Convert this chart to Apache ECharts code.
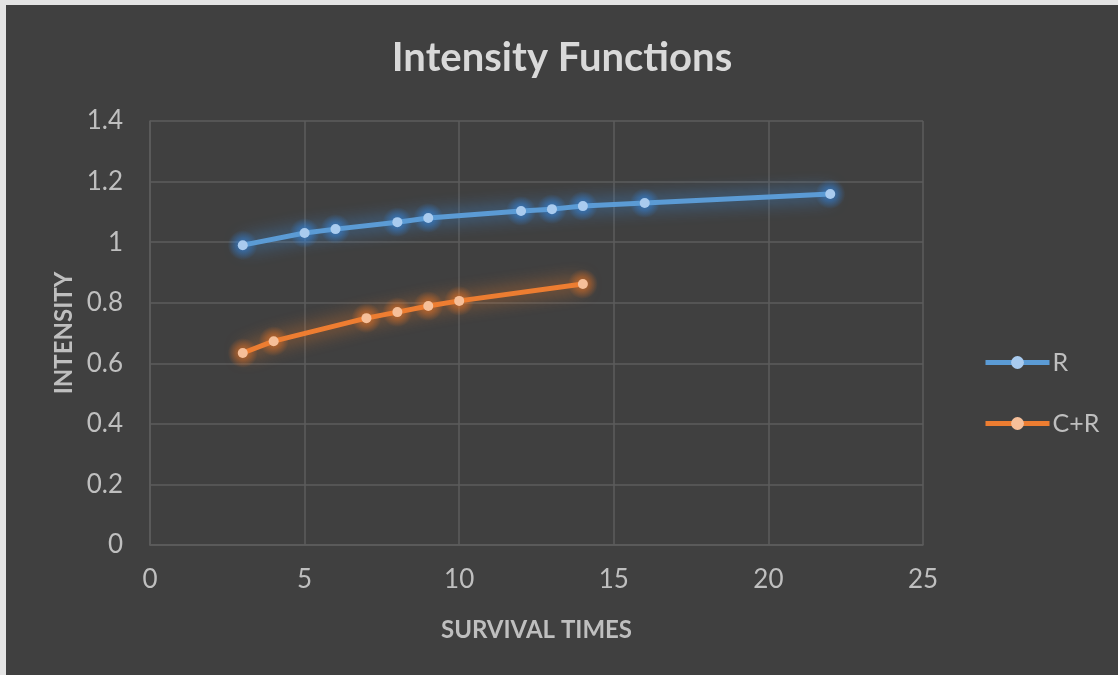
<!DOCTYPE html>
<html>
<head>
<meta charset="utf-8">
<script src="https://cdn.jsdelivr.net/npm/echarts@6/dist/echarts.min.js"></script>
<style>
  html, body { margin: 0; padding: 0; background: #e4e4e4; }
  #chart { position: absolute; left: 6px; top: 5px; width: 1112px; height: 670px; background: #404040; }
</style>
</head>
<body>
<div id="chart"></div>
<script>
// Survival times and intensity estimates for each group
const timesR = [3, 5, 6, 8, 9, 12, 13, 14, 16, 22];
const intensityR = [0.990, 1.030, 1.043, 1.066, 1.080, 1.103, 1.109, 1.119, 1.129, 1.159];
const timesCR = [3, 4, 7, 8, 9, 10, 14];
const intensityCR = [0.634, 0.673, 0.749, 0.769, 0.789, 0.806, 0.862];
const seriesNames = ['R', 'C+R'];

const pairs = (xs, ys) => xs.map((x, i) => [x, ys[i]]);

const font = 'Lato, "Open Sans", sans-serif';
const gridColor = '#5c5c5c';
const labelColor = '#bfbfbf';

// Line with a soft glow around the stroke
function glowSeries(name, data, lineColor, dotColor, glow) {
  return {
    name: name,
    type: 'line',
    data: data,
    z: 3,
    symbol: 'circle',
    symbolSize: 10,
    lineStyle: { color: lineColor, width: 5, shadowBlur: 18, shadowColor: glow },
    itemStyle: { color: dotColor, borderWidth: 0 },
    emphasis: { disabled: true }
  };
}

// Soft radial halo drawn beneath each marker
function haloSeries(data, rgb) {
  return {
    name: 'halo',
    type: 'scatter',
    data: data,
    z: 2,
    symbolSize: 30,
    silent: true,
    itemStyle: {
      color: {
        type: 'radial', x: 0.5, y: 0.5, r: 0.5,
        colorStops: [
          { offset: 0, color: 'rgba(' + rgb + ',0.85)' },
          { offset: 0.45, color: 'rgba(' + rgb + ',0.55)' },
          { offset: 1, color: 'rgba(' + rgb + ',0)' }
        ]
      }
    },
    emphasis: { disabled: true }
  };
}

const chart = echarts.init(document.getElementById('chart'));
chart.setOption({
  animation: false,
  backgroundColor: '#404040',
  title: {
    text: 'Intensity Functions',
    left: 'center',
    top: 28,
    textStyle: { color: '#d9d9d9', fontSize: 40, fontWeight: 'bold', fontFamily: font }
  },
  legend: {
    orient: 'vertical',
    left: 972,
    top: 340,
    itemWidth: 64,
    itemHeight: 16,
    itemGap: 36,
    textStyle: { color: labelColor, fontSize: 25, fontFamily: font, padding: [0, 0, 0, -2] },
    lineStyle: { width: 5, shadowBlur: 0 },
    itemStyle: { shadowBlur: 0 },
    data: seriesNames
  },
  grid: { left: 144, right: 195, top: 116, bottom: 130 },
  xAxis: {
    type: 'value',
    min: 0, max: 25, interval: 5,
    name: 'SURVIVAL TIMES',
    nameLocation: 'middle',
    nameGap: 73,
    nameTextStyle: { color: labelColor, fontSize: 24, fontWeight: 'bold', fontFamily: font },
    axisLine: { show: true, lineStyle: { color: gridColor, width: 1.5 } },
    axisTick: { show: false },
    axisLabel: { color: labelColor, fontSize: 26, fontFamily: font, margin: 22 },
    splitLine: { show: true, lineStyle: { color: gridColor, width: 1.5 } }
  },
  yAxis: {
    type: 'value',
    min: 0, max: 1.4, interval: 0.2,
    name: 'INTENSITY',
    nameLocation: 'middle',
    nameRotate: 90,
    nameGap: 74,
    nameTextStyle: { color: labelColor, fontSize: 24, fontWeight: 'bold', fontFamily: font },
    axisLine: { show: true, lineStyle: { color: gridColor, width: 1.5 } },
    axisTick: { show: false },
    axisLabel: { color: labelColor, fontSize: 26, fontFamily: font, margin: 27,
      formatter: v => String(Math.round(v * 10) / 10) },
    splitLine: { show: true, lineStyle: { color: gridColor, width: 1.5 } }
  },
  series: [
    haloSeries(pairs(timesR, intensityR), '50,135,230'),
    haloSeries(pairs(timesCR, intensityCR), '235,115,35'),
    glowSeries(seriesNames[0], pairs(timesR, intensityR), '#5b9bd5', '#a9cbef', 'rgba(60,150,240,1)'),
    glowSeries(seriesNames[1], pairs(timesCR, intensityCR), '#ed7d31', '#f6bf99', 'rgba(240,125,40,1)')
  ]
});
</script>
</body>
</html>
